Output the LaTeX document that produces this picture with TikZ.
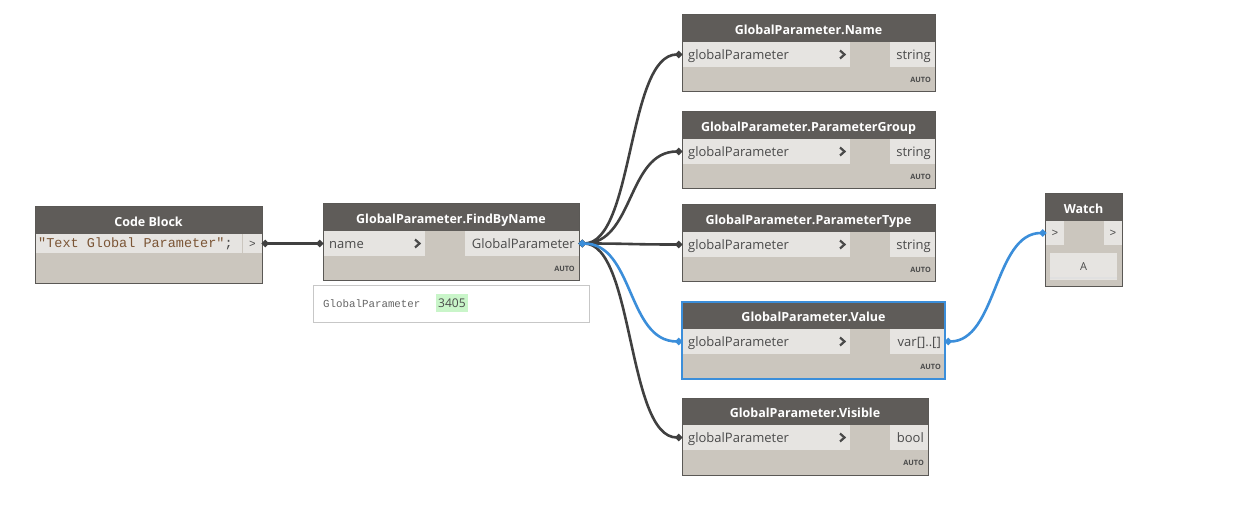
\documentclass[tikz,border=0pt]{standalone}
\usepackage{fontspec}
\setmainfont{Open Sans}
\setmonofont{Liberation Mono}
\usetikzlibrary{arrows.meta}
\definecolor{headc}{HTML}{5F5C59}
\definecolor{bodyc}{HTML}{CBC6BE}
\definecolor{cellc}{HTML}{E6E4E1}
\definecolor{bordc}{HTML}{5A5855}
\definecolor{textc}{HTML}{4A4A4A}
\definecolor{wirec}{HTML}{404040}
\definecolor{bluec}{HTML}{3B8EDA}
\definecolor{codec}{HTML}{7B5535}
\definecolor{greenc}{HTML}{C9F5C9}
\tikzset{
  box/.style={anchor=north west, inner sep=0pt, outer sep=0pt},
  bodybox/.style={box, fill=bodyc},
  headbox/.style={box, fill=headc},
  headtext/.style={inner sep=0pt, text=white, font=\fontsize{12.5}{15}\selectfont\bfseries, anchor=mid},
  cellbox/.style={box, fill=cellc},
  celltext/.style={inner sep=0pt, text=textc, font=\fontsize{13}{15}\selectfont},
  autotext/.style={inner sep=0pt, text=textc, font=\fontsize{7.3}{8}\selectfont\bfseries, anchor=mid east},
  chev/.style={line width=2.2pt, textc, line cap=butt},
  wire/.style={line width=2.6pt, wirec, {Circle[length=6.5pt]}-{Circle[length=6.5pt]}},
  bluewire/.style={line width=2.6pt, bluec, {Circle[length=6.5pt]}-{Circle[length=6.5pt]}},
}
% #1 name, #2 x, #3 y, #4 width, #5 title, #6 input, #7 output, #8 input cell width, #9 output cell left offset
\newcommand\dnode[9]{%
  \node[bodybox, minimum width=#4, minimum height=77] (#1) at (#2,#3) {};
  \node[headbox, minimum width=#4, minimum height=27] (#1h) at (#2,#3) {};
  \node[headtext] (#1ht) at ([yshift=-3pt]#1h.center) {#5};
  \node[cellbox, minimum width=#8, minimum height=25] (#1i) at (#2,#3+27) {};
  \node[cellbox, minimum width=#4-#9, minimum height=25] (#1o) at (#2+#9,#3+27) {};
  \node[celltext, anchor=mid west] (#1it) at ([xshift=6pt,yshift=-2.2pt]#1i.west) {#6};
  \node[celltext, anchor=mid east] (#1ot) at ([xshift=-4pt,yshift=-2.2pt]#1o.east) {#7};
  \draw[chev] ([xshift=-10pt,yshift=4pt]#1i.east) -- ([xshift=-5.5pt]#1i.east) -- ([xshift=-10pt,yshift=-4pt]#1i.east);
  \node[autotext] (#1a) at ([xshift=-4pt,yshift=12pt]#1.south east) {AUTO};
}
\begin{document}
\begin{tikzpicture}[x=1pt,y=-1pt]
\useasboundingbox[fill=white] (0,0) rectangle (1238,518);

% Code block
\node[bodybox, minimum width=227, minimum height=77] (cb) at (35,207) {};
\node[headbox, minimum width=227, minimum height=27] (cbh) at (35,207) {};
\node[headtext] (cbht) at ([yshift=-3pt]cbh.center) {Code Block};
\node[cellbox, minimum width=206, minimum height=19] (cbi) at (36,234) {};
\node[cellbox, minimum width=19, minimum height=19] (cbo) at (243,234) {};
\node[inner sep=0pt, anchor=mid west, font=\fontsize{13.5}{15}\selectfont\ttfamily] (cbt) at ([xshift=2pt,yshift=-1.5pt]cbi.west) {\textcolor{codec}{"Text Global Parameter"}\textcolor{textc}{;}};
\node[inner sep=0pt, anchor=mid, text=textc, font=\fontsize{11}{12}\selectfont\ttfamily] (cbot) at ([yshift=-1pt]cbo.center) {>};
\draw[bordc, line width=1pt] (cb.north west) rectangle (cb.south east);

% FindByName
\dnode{fb}{323}{204}{256}{GlobalParameter.FindByName}{name}{GlobalParameter}{102}{142}
\draw[bordc, line width=1pt] (fb.north west) rectangle (fb.south east);

% info box
\node[box, draw=black!22, fill=white, line width=1pt, minimum width=276, minimum height=36] (info) at (313,286) {};
\node[inner sep=0pt, anchor=mid west, text=black!60, font=\fontsize{10.8}{12}\selectfont\ttfamily] (infot) at ([xshift=10pt,yshift=-1pt]info.west) {GlobalParameter};
\node[inner sep=2pt, anchor=west, fill=greenc, text=textc, font=\fontsize{12}{14}\selectfont, minimum height=17] (infov) at (436,303) {3405};

% output nodes
\dnode{n1}{682}{15}{253}{GlobalParameter.Name}{globalParameter}{string}{168}{208}
\draw[bordc, line width=1pt] (n1.north west) rectangle (n1.south east);
\dnode{n2}{682}{112}{253}{GlobalParameter.ParameterGroup}{globalParameter}{string}{168}{208}
\draw[bordc, line width=1pt] (n2.north west) rectangle (n2.south east);
\dnode{n3}{682}{205}{253}{GlobalParameter.ParameterType}{globalParameter}{string}{168}{208}
\draw[bordc, line width=1pt] (n3.north west) rectangle (n3.south east);
\dnode{n4}{682}{302}{263}{GlobalParameter.Value}{globalParameter}{var[]..[]}{168}{208}
\draw[bluec, line width=2pt] (n4.north west) rectangle (n4.south east);
\dnode{n5}{682}{398}{246}{GlobalParameter.Visible}{globalParameter}{bool}{168}{208}
\draw[bordc, line width=1pt] (n5.north west) rectangle (n5.south east);

% Watch
\node[bodybox, minimum width=77, minimum height=93] (w) at (1045,194) {};
\node[headbox, minimum width=77, minimum height=27] (wh) at (1045,194) {};
\node[headtext] (wht) at ([yshift=-3pt]wh.center) {Watch};
\node[cellbox, minimum width=18, minimum height=24] (wi) at (1046,221) {};
\node[cellbox, minimum width=18, minimum height=24] (wo) at (1104,221) {};
\node[inner sep=0pt, text=textc, font=\fontsize{11}{12}\selectfont\ttfamily] (wit) at (wi.center) {>};
\node[inner sep=0pt, text=textc, font=\fontsize{11}{12}\selectfont\ttfamily] (wot) at (wo.center) {>};
\node[cellbox, minimum width=67, minimum height=27] (wa) at (1050,253) {};
\node[inner sep=0pt, text=textc, font=\fontsize{11}{12}\selectfont] (wat) at (wa.center) {A};
\draw[black!12, line width=1.5pt] ([yshift=2pt]wa.south west) -- ([yshift=2pt]wa.south east);
\draw[bordc, line width=1pt] (w.north west) rectangle (w.south east);

% wires
\draw[wire] (cbo.east) -- (fbi.west);
\draw[wire] (fbo.east) .. controls +(55,0) and +(-55,0) .. (n1i.west);
\draw[wire] (fbo.east) .. controls +(55,0) and +(-55,0) .. (n2i.west);
\draw[wire] (fbo.east) .. controls +(55,0) and +(-55,0) .. (n3i.west);
\draw[wire] (fbo.east) .. controls +(55,0) and +(-55,0) .. (n5i.west);
\draw[bluewire] (fbo.east) .. controls +(55,0) and +(-55,0) .. (n4i.west);
\draw[bluewire] (n4o.east) .. controls +(52,0) and +(-52,0) .. (wi.west);
\end{tikzpicture}
\end{document}
